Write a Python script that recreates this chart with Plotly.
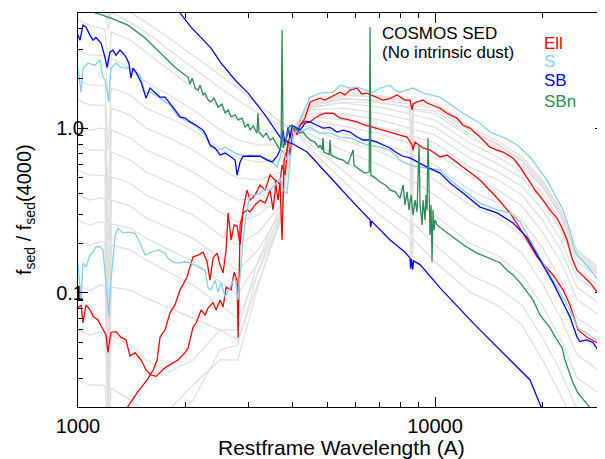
import math
import plotly.graph_objects as go

# ---------------- data (wavelength [A], f_sed / f_sed(4000)) ----------------
sb_steep = [(1869, 5.82), (1931, 5.0), (2073, 4.10), (2358, 3.06), (2516, 2.48), (2754, 1.96),
            (2995, 1.63), (3344, 1.20), (3729, 0.846), (4003, 0.80), (4380, 0.715), (4856, 0.556),
            (5420, 0.432), (5894, 0.355), (6577, 0.276), (6600, 0.25), (6640, 0.272), (7482, 0.209),
            (8240, 0.176), (8511, 0.162), (8540, 0.14), (8580, 0.16), (8660, 0.138), (8700, 0.156),
            (9078, 0.148), (10327, 0.107), (12770, 0.0655), (15500, 0.0430), (17635, 0.0325),
            (18450, 0.0295), (19800, 0.0203), (20990, 0.0169)]

sb_young = [(1000, 3.67), (1013, 3.42), (1033, 4.22), (1053, 4.10), (1080, 3.67), (1102, 3.42),
            (1123, 3.55), (1152, 3.33), (1160, 3.28), (1190, 2.70), (1206, 2.34), (1229, 2.89),
            (1253, 2.98), (1278, 2.77), (1311, 2.98), (1337, 2.85), (1363, 2.70), (1389, 2.48),
            (1407, 2.01), (1426, 2.31), (1454, 2.18), (1502, 1.90), (1541, 1.59), (1551, 1.52),
            (1591, 1.75), (1644, 1.63), (1697, 1.54), (1753, 1.54), (1810, 1.42), (1869, 1.29),
            (1931, 1.17), (1994, 1.15), (2060, 1.09), (2143, 1.04), (2241, 0.972), (2284, 0.907),
            (2343, 0.789), (2420, 0.757), (2500, 0.686), (2582, 0.705), (2666, 0.674), (2754, 0.639),
            (2790, 0.518), (2844, 0.622), (2900, 0.674), (2995, 0.674), (3132, 0.68), (3236, 0.674),
            (3387, 0.639), (3500, 0.622), (3610, 0.674), (3681, 0.735), (3753, 0.972), (3801, 0.789),
            (3876, 1.01), (3926, 0.87), (3977, 1.04), (4055, 1.01), (4188, 0.972), (4324, 1.07),
            (4467, 1.09), (4674, 1.04), (4856, 1.0), (5082, 1.01), (5318, 0.946), (5527, 0.972),
            (5781, 0.946), (6047, 0.882), (6287, 0.846), (6577, 0.846), (6881, 0.822), (7152, 0.789),
            (7482, 0.757), (7827, 0.705), (8136, 0.674), (8511, 0.658), (8903, 0.622), (9496, 0.579),
            (10327, 0.533), (11015, 0.464), (11977, 0.403), (13366, 0.331), (14922, 0.305),
            (16535, 0.265), (18098, 0.217), (19677, 0.158), (21400, 0.115), (22826, 0.0868),
            (23880, 0.0712), (24980, 0.0536), (25466, 0.0505), (26645, 0.0516), (27690, 0.0497),
            (28970, 0.0432), (29920, 0.0364)]

s_young = [(1000, 2.34), (1020, 1.65), (1033, 2.31), (1067, 2.48), (1116, 2.41), (1152, 2.59),
           (1175, 2.04), (1190, 1.96), (1221, 1.44), (1237, 2.31), (1278, 2.48), (1320, 2.34),
           (1380, 2.31), (1426, 2.25), (1492, 2.10), (1541, 1.63), (1602, 1.65), (1697, 1.52),
           (1810, 1.38), (1906, 1.17), (1994, 1.12), (2073, 1.07), (2171, 1.00), (2269, 0.907),
           (2358, 0.765), (2468, 0.735), (2582, 0.765), (2754, 0.705), (2937, 0.674), (3033, 0.686),
           (3236, 0.674), (3451, 0.639), (3610, 0.58), (3729, 0.735), (3851, 0.639), (3926, 0.846),
           (4003, 1.0), (4188, 0.946), (4467, 1.01), (4764, 0.932), (5082, 0.932), (5420, 0.882),
           (5781, 0.87), (6166, 0.822), (6451, 0.789), (7015, 0.765), (7482, 0.735), (7980, 0.639),
           (8511, 0.596), (9078, 0.58), (9496, 0.57), (10327, 0.556), (11015, 0.483), (11977, 0.42),
           (13366, 0.35), (14922, 0.318), (16218, 0.305), (17297, 0.27), (18450, 0.209),
           (19677, 0.162), (21400, 0.119), (22826, 0.093), (23880, 0.0785), (25150, 0.061),
           (26645, 0.0562), (28420, 0.0516), (29920, 0.0437)]

s_old = [(1000, 0.151), (1020, 0.0903), (1033, 0.151), (1053, 0.143), (1080, 0.169), (1102, 0.176),
         (1123, 0.19), (1152, 0.19), (1175, 0.182), (1198, 0.119), (1221, 0.0712), (1237, 0.119),
         (1270, 0.218), (1294, 0.247), (1337, 0.23), (1380, 0.233), (1444, 0.23), (1492, 0.2),
         (1541, 0.169), (1602, 0.176), (1677, 0.182), (1753, 0.174), (1786, 0.162), (1846, 0.154),
         (1906, 0.151), (1994, 0.154), (2073, 0.151), (2171, 0.143), (2269, 0.137), (2314, 0.107),
         (2358, 0.104), (2420, 0.119), (2468, 0.101), (2516, 0.115), (2582, 0.094), (2666, 0.108),
         (2754, 0.125), (2808, 0.0903), (2863, 0.147), (2900, 0.209), (2956, 0.296), (2995, 0.341),
         (3033, 0.392), (3132, 0.392), (3236, 0.40), (3344, 0.43), (3451, 0.42), (3564, 0.451),
         (3681, 0.50), (3753, 0.42), (3851, 0.40), (3926, 0.639), (4003, 0.882), (4107, 0.972),
         (4240, 1.20), (4324, 1.32), (4467, 1.54), (4764, 1.63), (5182, 1.65), (5420, 1.82),
         (5781, 1.75), (6047, 1.77), (6370, 1.70), (6706, 1.65), (7015, 1.75), (7482, 1.82),
         (7730, 1.70), (7980, 1.65), (8677, 1.75), (9255, 1.63), (10327, 1.54), (10804, 1.44),
         (11977, 1.23), (13366, 1.07), (14258, 0.946), (15908, 0.857), (16966, 0.789),
         (18450, 0.667), (20590, 0.483), (22826, 0.318), (23880, 0.24), (24660, 0.176),
         (25960, 0.154), (27500, 0.134), (29920, 0.104)]

ell_old = [(1311, 0.0157), (1380, 0.0203), (1463, 0.0246), (1562, 0.0295), (1624, 0.0339),
           (1666, 0.039), (1697, 0.0536), (1753, 0.0594), (1810, 0.0754), (1869, 0.0842),
           (1931, 0.104), (2020, 0.124), (2100, 0.165), (2171, 0.169), (2241, 0.176), (2299, 0.154),
           (2343, 0.119), (2389, 0.162), (2452, 0.174), (2500, 0.147), (2549, 0.132), (2599, 0.182),
           (2633, 0.305), (2684, 0.209), (2737, 0.258), (2790, 0.253), (2844, 0.195), (2900, 0.318),
           (2975, 0.42), (3033, 0.365), (3132, 0.392), (3236, 0.451), (3344, 0.42), (3451, 0.518),
           (3564, 0.483), (3634, 0.365), (3729, 0.596), (3801, 0.518), (3876, 0.846), (3926, 0.686),
           (4003, 1.0), (4107, 0.907), (4188, 1.04), (4324, 1.15), (4467, 1.44), (4610, 1.48),
           (4764, 1.52), (4918, 1.48), (5082, 1.54), (5420, 1.65), (5598, 1.59), (5781, 1.70),
           (6047, 1.75), (6230, 1.61), (6451, 1.63), (6790, 1.56), (7152, 1.48), (7482, 1.51),
           (7827, 1.59), (8240, 1.48), (8511, 1.48), (8622, 1.29), (8677, 1.40), (8903, 1.44),
           (9255, 1.48), (9496, 1.42), (10327, 1.32), (10804, 1.23), (11510, 1.15), (11977, 1.04),
           (12523, 1.0), (13366, 0.882), (14258, 0.766), (14922, 0.735), (15502, 0.715),
           (16535, 0.658), (17297, 0.58), (18098, 0.50), (19060, 0.42), (20063, 0.365),
           (20990, 0.318), (21960, 0.283), (22680, 0.247), (23426, 0.209), (24190, 0.162),
           (24980, 0.137), (26300, 0.123), (27160, 0.115), (28420, 0.101), (29920, 0.087)]

ell_uvx = [(1000, 0.0808), (1020, 0.0842), (1033, 0.0656), (1053, 0.0842), (1080, 0.0785),
           (1102, 0.072), (1137, 0.0683), (1175, 0.0594), (1198, 0.0554), (1213, 0.0434),
           (1237, 0.0573), (1278, 0.058), (1320, 0.0535), (1363, 0.0516), (1398, 0.0413),
           (1444, 0.0432), (1502, 0.039), (1551, 0.0339), (1602, 0.0316), (1655, 0.031),
           (1697, 0.0325), (1753, 0.035), (1822, 0.0368), (1906, 0.039), (1994, 0.0432),
           (2033, 0.046), (2100, 0.0618), (2143, 0.0656), (2212, 0.0785), (2269, 0.0732),
           (2314, 0.0808), (2389, 0.0869), (2436, 0.0785), (2500, 0.0903), (2549, 0.082),
           (2599, 0.108), (2684, 0.104), (2737, 0.133), (2790, 0.119), (2808, 0.0532), (2844, 0.258),
           (2900, 0.305), (2975, 0.318), (3033, 0.31), (3132, 0.341), (3236, 0.365), (3344, 0.35),
           (3451, 0.42), (3518, 0.318), (3590, 0.483), (3681, 0.451), (3729, 0.209), (3777, 0.639),
           (3851, 0.735), (3926, 0.907), (4003, 1.0), (4107, 0.972), (4188, 1.04), (4324, 1.10),
           (4467, 1.09), (4610, 1.15), (4764, 1.20), (4918, 1.23), (5182, 1.23), (5420, 1.15),
           (5670, 1.13), (6047, 1.09), (6370, 1.04), (6706, 1.01), (7015, 0.986), (7482, 0.946),
           (7980, 0.907), (8348, 0.882), (8622, 0.789), (8677, 0.735), (8790, 0.822), (9255, 0.757),
           (9682, 0.735), (10327, 0.667), (10804, 0.686), (11977, 0.58), (13366, 0.483),
           (14922, 0.376), (16218, 0.305), (17635, 0.23), (19306, 0.165), (21400, 0.128),
           (22826, 0.104), (23880, 0.0842), (25150, 0.0594), (26645, 0.0536), (28420, 0.0497),
           (29920, 0.0404)]

sbn = [(1000, 5.35), (1123, 5.0), (1237, 4.66), (1380, 4.22), (1541, 3.52), (1708, 2.85),
       (1869, 2.34), (1994, 2.10), (2033, 2.04), (2060, 1.85), (2087, 2.01), (2129, 1.75),
       (2171, 1.70), (2197, 1.82), (2241, 1.59), (2269, 1.63), (2314, 1.48), (2358, 1.44),
       (2404, 1.52), (2468, 1.34), (2532, 1.40), (2582, 1.23), (2633, 1.29), (2684, 1.17),
       (2754, 1.20), (2808, 1.12), (2881, 1.15), (2937, 1.01), (2995, 1.06), (3033, 0.972),
       (3093, 1.03), (3172, 0.932), (3192, 1.23), (3214, 0.946), (3300, 0.882), (3366, 0.932),
       (3451, 0.846), (3518, 0.87), (3610, 0.789), (3681, 0.735), (3705, 0.789), (3729, 3.94),
       (3753, 0.757), (3826, 0.846), (3876, 0.972), (3926, 1.04), (4003, 1.0), (4107, 0.972),
       (4188, 0.932), (4270, 0.946), (4380, 0.882), (4467, 0.846), (4610, 0.822), (4720, 0.757),
       (4764, 0.789), (4830, 0.735), (4856, 0.87), (4880, 0.715), (4950, 0.705), (5010, 0.70),
       (5050, 0.686), (5082, 0.846), (5110, 0.686), (5318, 0.655), (5527, 0.639), (5700, 0.605),
       (5894, 0.735), (5930, 0.596), (6166, 0.556), (6370, 0.533), (6540, 0.54), (6577, 4.10),
       (6610, 0.518), (6790, 0.50), (7015, 0.47), (7265, 0.451), (7482, 0.42), (7730, 0.41),
       (7980, 0.375), (8136, 0.451), (8240, 0.341), (8348, 0.41), (8455, 0.318), (8566, 0.392),
       (8677, 0.296), (8790, 0.365), (8903, 0.31), (9020, 0.789), (9078, 0.341), (9195, 0.258),
       (9255, 0.365), (9375, 0.276), (9435, 0.392), (9496, 0.318), (9557, 0.87), (9620, 0.296),
       (9682, 0.224), (9745, 0.341), (9807, 0.154), (9870, 0.318), (9935, 0.24), (10000, 0.276),
       (10130, 0.258), (10665, 0.236), (11510, 0.209), (12130, 0.192), (13103, 0.174),
       (14539, 0.158), (15205, 0.152), (15908, 0.137), (16535, 0.128), (17297, 0.115),
       (18098, 0.10), (18809, 0.0903), (19677, 0.0732), (20990, 0.0611), (21960, 0.0516),
       (22680, 0.0463), (23120, 0.039), (23426, 0.0356), (23880, 0.0316), (24345, 0.0282),
       (25150, 0.0245), (26130, 0.0223), (27160, 0.0203), (28250, 0.0181)]

# grey COSMOS templates, sampled on a common wavelength grid (30 points)
gray_wl = [1000, 1080, 1150, 1190, 1216, 1240, 1400, 1550, 1800, 2100, 2500, 2800, 3200, 3700,
           4000, 4500, 5500, 7000, 8500, 8600, 8700, 10000, 12500, 15000, 17500, 20000, 22500,
           25000, 27500, 30000]
gray_01 = [6.89, 6.41, 6.16, 6.1, 4.53, 5.74, 5.06, 4.40, 3.52, 2.77, 2.10, 1.75, 1.38, 1.09,
           1.0, 0.735, 0.483, 0.296, 0.215, 0.133, 0.211, 0.154, 0.101, 0.0836, 0.0637, 0.039,
           0.0239, 0.0147, 0.0128, 0.0104]
gray_02 = [5.99, 5.57, 5.35, 5.3, 3.94, 5.06, 4.40, 3.83, 2.98, 2.31, 1.75, 1.48, 1.23, 1.04,
           1.0, 0.789, 0.556, 0.365, 0.269, 0.167, 0.264, 0.195, 0.128, 0.107, 0.0842, 0.0532,
           0.033, 0.0194, 0.0169, 0.0144]
gray_03 = [4.53, 4.21, 4.05, 4.0, 2.25, 3.83, 3.42, 2.89, 2.25, 1.75, 1.32, 1.12, 1.0, 0.907,
           1.0, 0.846, 0.639, 0.47, 0.365, 0.226, 0.358, 0.296, 0.20, 0.167, 0.128, 0.083,
           0.0516, 0.0303, 0.0263, 0.0223]
gray_04 = [2.98, 2.77, 2.77, 2.74, 1.48, 2.66, 2.31, 1.90, 1.59, 1.29, 0.972, 0.846, 0.789, 0.789,
           1.0, 0.907, 0.735, 0.596, 0.483, 0.30, 0.473, 0.392, 0.269, 0.224, 0.174, 0.113,
           0.0702, 0.0418, 0.0364, 0.0303]
gray_05 = [1.96, 1.82, 1.82, 1.80, 0.735, 1.75, 1.59, 1.32, 1.15, 0.972, 0.757, 0.658, 0.622,
           0.639, 1.0, 0.972, 0.846, 0.715, 0.596, 0.37, 0.584, 0.483, 0.341, 0.284, 0.224, 0.147,
           0.0929, 0.0554, 0.0481, 0.0396]
gray_06 = [1.48, 1.38, 1.38, 1.37, 0.365, 1.32, 1.20, 1.0, 0.87, 0.735, 0.572, 0.497, 0.483, 0.54,
           1.0, 1.04, 0.932, 0.811, 0.705, 0.437, 0.691, 0.596, 0.42, 0.35, 0.276, 0.187, 0.119,
           0.0702, 0.0611, 0.0516]
gray_07 = [1.04, 0.967, 1.0, 0.99, 0.209, 0.972, 0.87, 0.735, 0.639, 0.54, 0.42, 0.365, 0.376,
           0.451, 1.0, 1.12, 1.03, 0.92, 0.811, 0.503, 0.795, 0.715, 0.511, 0.42, 0.336, 0.233,
           0.154, 0.0903, 0.0785, 0.067]
gray_08 = [0.789, 0.734, 0.735, 0.728, 0.119, 0.715, 0.639, 0.54, 0.47, 0.403, 0.309, 0.269, 0.296,
           0.392, 1.0, 1.17, 1.12, 1.01, 0.907, 0.562, 0.889, 0.811, 0.58, 0.483, 0.392, 0.276,
           0.182, 0.107, 0.0929, 0.0785]
gray_09 = [0.556, 0.517, 0.518, 0.513, 0.0683, 0.504, 0.464, 0.392, 0.341, 0.296, 0.224, 0.195,
           0.233, 0.341, 1.0, 1.23, 1.22, 1.12, 1.0, 0.62, 0.98, 0.907, 0.658, 0.54, 0.444, 0.318,
           0.209, 0.123, 0.107, 0.0903]
gray_10 = [0.392, 0.365, 0.376, 0.372, 0.039, 0.365, 0.336, 0.284, 0.247, 0.215, 0.162, 0.137,
           0.182, 0.309, 1.0, 1.29, 1.32, 1.23, 1.12, 0.694, 1.10, 1.01, 0.735, 0.604, 0.497, 0.365,
           0.24, 0.137, 0.119, 0.101]
gray_11 = [0.276, 0.257, 0.269, 0.266, 0.0295, 0.262, 0.247, 0.215, 0.182, 0.154, 0.116, 0.0969,
           0.154, 0.296, 1.0, 1.34, 1.42, 1.34, 1.22, 0.756, 1.20, 1.12, 0.811, 0.667, 0.54, 0.403,
           0.269, 0.154, 0.132, 0.11]
gray_12 = [0.209, 0.194, 0.204, 0.202, 0.0223, 0.195, 0.182, 0.158, 0.133, 0.111, 0.0842, 0.0702,
           0.133, 0.284, 1.0, 1.38, 1.52, 1.44, 1.32, 0.818, 1.29, 1.22, 0.882, 0.725, 0.588, 0.438,
           0.292, 0.167, 0.141, 0.118]
gray_13 = [0.111, 0.103, 0.111, 0.110, 0.0169, 0.108, 0.104, 0.0929, 0.0808, 0.0702, 0.0594,
           0.0516, 0.116, 0.276, 1.0, 1.42, 1.59, 1.54, 1.44, 0.893, 1.41, 1.36, 0.972, 0.80, 0.639,
           0.47, 0.309, 0.177, 0.15, 0.123]
gray_14 = [0.0594, 0.0552, 0.0577, 0.0571, 0.0169, 0.0554, 0.0481, 0.039, 0.033, 0.039, 0.0594,
           0.0594, 0.158, 0.341, 1.0, 1.40, 1.57, 1.57, 1.48, 0.918, 1.45, 1.42, 1.01, 0.834, 0.667,
           0.483, 0.318, 0.182, 0.154, 0.126]
gray_15 = [0.0295, 0.0274, 0.0275, 0.0272, 0.0147, 0.0263, 0.0223, 0.0189, 0.0169, 0.0223, 0.0449,
           0.0481, 0.137, 0.318, 1.0, 1.36, 1.50, 1.48, 1.40, 0.868, 1.37, 1.32, 0.959, 0.789, 0.630,
           0.457, 0.30, 0.172, 0.145, 0.119]
gray_16 = [0.0128, 0.0119, 0.0128, 0.0128, 0.0111, 0.0128, 0.0128, 0.0147, 0.0194, 0.0275, 0.039,
           0.039, 0.111, 0.296, 1.0, 1.32, 1.44, 1.42, 1.34, 0.831, 1.31, 1.27, 0.92, 0.757, 0.604,
           0.444, 0.292, 0.165, 0.139, 0.115]
gray_templates = [gray_01, gray_02, gray_03, gray_04, gray_05, gray_06, gray_07, gray_08,
                  gray_09, gray_10, gray_11, gray_12, gray_13, gray_14, gray_15, gray_16]

x_major = [1000, 10000]
x_major_text = ["1000", "10000"]
x_minor = [2000, 3000, 4000, 5000, 6000, 7000, 8000, 9000, 20000]
y_major = [0.1, 1.0]
y_major_text = ["0.1", "1.0"]
y_minor = [0.02, 0.03, 0.04, 0.05, 0.06, 0.07, 0.08, 0.09,
           0.2, 0.3, 0.4, 0.5, 0.6, 0.7, 0.8, 0.9, 2, 3, 4, 5]

legend_labels = ["Ell", "S", "SB", "SBn"]

# ---------------- styling ----------------
C_RED = "#ff0000"
C_SKY = "#87ceeb"
C_BLUE = "#0000ff"
C_GREEN = "#2e8b57"
C_GRAY = "#dedede"
FONT = "Liberation Sans, Arial, Helvetica, sans-serif"

fig = go.Figure()

for g in gray_templates:
    fig.add_trace(go.Scatter(x=gray_wl, y=g, mode="lines",
                             line=dict(color=C_GRAY, width=1.2), hoverinfo="skip"))

colored = [(ell_old, C_RED), (ell_uvx, C_RED), (s_old, C_SKY), (s_young, C_SKY),
           (sb_young, C_BLUE), (sb_steep, C_BLUE), (sbn, C_GREEN)]
for pts, col in colored:
    xs = [p[0] for p in pts]
    ys = [p[1] for p in pts]
    fig.add_trace(go.Scatter(x=xs, y=ys, mode="lines",
                             line=dict(color=col, width=1.3)))

# page body adds an 8 px offset; figure is sized so the plot fills the window
OFF = 8
W, H = 605 - OFF, 459 - OFF
L, R, T, B = 70, 0, 5, 52
pw, ph = W - L - R, H - T - B


def px(xw):  # window pixel -> paper x
    return (xw - OFF - L) / pw


def py(yw):  # window pixel -> paper y
    return (H - B - (yw - OFF)) / ph


axis_common = dict(type="log", showgrid=False, zeroline=False, showline=True,
                   linecolor="black", linewidth=1, mirror="ticks", ticks="inside",
                   tickcolor="black", tickwidth=1, ticklen=10, automargin=False,
                   tickfont=dict(family=FONT, size=20, color="black"))

fig.update_layout(
    width=W, height=H, margin=dict(l=L, r=R, t=T, b=B, autoexpand=False),
    paper_bgcolor="white", plot_bgcolor="white", showlegend=False,
    font=dict(family=FONT, color="black"),
    xaxis=dict(**axis_common, range=[3, math.log10(29920)],
               tickvals=x_major, ticktext=x_major_text, ticklabelstandoff=1,
               minor=dict(tickvals=x_minor, ticks="inside", ticklen=5,
                          tickcolor="black", showgrid=False)),
    yaxis=dict(**axis_common, range=[math.log10(0.0202), math.log10(5.0)],
               tickvals=y_major, ticktext=y_major_text, ticklabelstandoff=-11,
               minor=dict(tickvals=y_minor, ticks="inside", ticklen=5,
                          tickcolor="black", showgrid=False)),
)

# axis titles
fig.add_annotation(x=px(341.5), y=py(447), xref="paper", yref="paper",
                   text="Restframe Wavelength (A)", showarrow=False,
                   xanchor="center", yanchor="middle",
                   font=dict(family=FONT, size=21, color="black"))
fig.add_annotation(x=px(25), y=py(210), xref="paper", yref="paper",
                   text="f<sub>sed</sub> / f<sub>sed</sub>(4000)", showarrow=False,
                   textangle=-90, xanchor="center", yanchor="middle",
                   font=dict(family=FONT, size=20, color="black"))

fig.add_annotation(x=px(380), y=py(33), xref="paper", yref="paper", text="COSMOS SED",
                   showarrow=False, xanchor="left", yanchor="middle",
                   font=dict(family=FONT, size=17, color="black"))
fig.add_annotation(x=px(380), y=py(52), xref="paper", yref="paper", text="(No intrinsic dust)",
                   showarrow=False, xanchor="left", yanchor="middle",
                   font=dict(family=FONT, size=17, color="black"))

for lab, col, yp in zip(legend_labels, [C_RED, C_SKY, C_BLUE, C_GREEN], [43, 62, 81, 101]):
    fig.add_annotation(x=px(542), y=py(yp), xref="paper", yref="paper", text=lab,
                       showarrow=False, xanchor="left", yanchor="middle",
                       font=dict(family=FONT, size=17, color=col))

fig.write_html("out.html")
